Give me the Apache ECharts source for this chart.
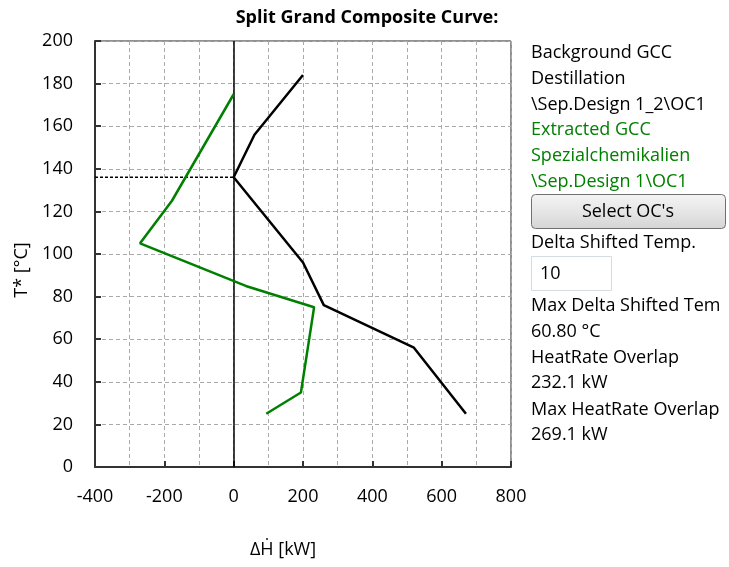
<!DOCTYPE html>
<html><head><meta charset="utf-8">
<script src="https://cdn.jsdelivr.net/npm/echarts@6/dist/echarts.min.js"></script>
<style>html,body{margin:0;padding:0;background:#fff}#c{width:729px;height:567px}</style>
</head><body><div id="c"></div>
<script>
// Background GCC (Destillation) : [ΔH kW, T* °C]
var backgroundGCC = [[200,184],[60,156],[0,136],[200,96],[260,76],[520,56],[670,25]];
// Extracted GCC (Spezialchemikalien)
var extractedGCC = [[0,175],[-178,125],[-270,105],[35,85],[232,75],[194,35],[94,25]];
// Pinch line
var pinchLine = [[-400,136],[0,136]];
var xTicks = [-400,-200,0,200,400,600,800];
var yTicks = [0,20,40,60,80,100,120,140,160,180,200];
var panelLines = [
  ["Background GCC","#000"],["Destillation","#000"],["\\Sep.Design 1_2\\OC1","#000"],
  ["Extracted GCC","#008000"],["Spezialchemikalien","#008000"],["\\Sep.Design 1\\OC1","#008000"]
];
var panelLines2 = ["Max Delta Shifted Tem","60.80 °C","HeatRate Overlap","232.1 kW","Max HeatRate Overlap","269.1 kW"];

var FONT = "Open Sans";
var FS = 18;
var chart = echarts.init(document.getElementById('c'), null, {renderer:'canvas'});
var gridL=95, gridT=41, gridW=416, gridH=426;
var f = FS+'px "'+FONT+'"';
var graphics = [];
graphics.push({type:'text', style:{text:'Split Grand Composite Curve:', font:'bold 18px "'+FONT+'"', fill:'#000', textAlign:'center', textVerticalAlign:'middle'}, x:367, y:18});
graphics.push({type:'text', style:{text:'T* [°C]', font:f, fill:'#000', textAlign:'center', textVerticalAlign:'middle'}, x:22, y:270, rotation:Math.PI/2});
graphics.push({type:'text', style:{text:'ΔḢ [kW]', font:f, fill:'#000', textAlign:'center', textVerticalAlign:'middle'}, x:283, y:550});
var ys = [53,79,105,130,156,182];
panelLines.forEach(function(p,i){
  graphics.push({type:'text', style:{text:p[0], font:f, fill:p[1], textVerticalAlign:'middle'}, x:531, y:ys[i]});
});
graphics.push({type:'rect', shape:{x:531.5,y:194.5,width:194,height:34,r:4}, style:{fill:new echarts.graphic.LinearGradient(0,0,0,1,[{offset:0,color:'#f4f4f4'},{offset:0.5,color:'#e6e6e6'},{offset:1,color:'#d4d4d4'}]), stroke:'#707070', lineWidth:1}});
graphics.push({type:'text', style:{text:"Select OC's", font:f, fill:'#000', textAlign:'center', textVerticalAlign:'middle'}, x:628, y:212});
graphics.push({type:'text', style:{text:'Delta Shifted Temp.', font:f, fill:'#000', textVerticalAlign:'middle'}, x:531, y:243});
graphics.push({type:'rect', shape:{x:531.5,y:256.5,width:80,height:34}, style:{fill:'#fff', stroke:'#d5dbe3', lineWidth:1}});
graphics.push({type:'text', style:{text:'10', font:f, fill:'#000', textVerticalAlign:'middle'}, x:540, y:274});
var ys2 = [306,332,358,383,410,435];
panelLines2.forEach(function(t,i){
  graphics.push({type:'text', style:{text:t, font:f, fill:'#000', textVerticalAlign:'middle'}, x:531, y:ys2[i]});
});

var option = {
  animation:false,
  backgroundColor:'#fff',
  textStyle:{fontFamily:FONT},
  grid:{left:gridL, top:gridT, width:gridW, height:gridH, show:true, borderColor:'#222', borderWidth:1, containLabel:false},
  xAxis:{type:'value', min:xTicks[0], max:xTicks[xTicks.length-1], interval:200,
    axisLine:{show:true, onZero:false, lineStyle:{color:'#333', width:2}},
    axisTick:{show:true, inside:true, length:6, lineStyle:{color:'#333', width:2}},
    axisLabel:{color:'#000', fontSize:FS, margin:21, fontFamily:FONT},
    splitLine:{show:true, lineStyle:{color:'#aaa', type:[4,3], width:1}},
    minorTick:{show:false, splitNumber:2},
    minorSplitLine:{show:true, lineStyle:{color:'#aaa', type:[4,3], width:1}}
  },
  yAxis:{type:'value', min:yTicks[0], max:yTicks[yTicks.length-1], interval:20,
    axisLine:{show:true, onZero:false, lineStyle:{color:'#333', width:2}},
    axisTick:{show:true, inside:true, length:6, lineStyle:{color:'#333', width:2}},
    axisLabel:{color:'#000', fontSize:FS, margin:22, fontFamily:FONT},
    splitLine:{show:true, lineStyle:{color:'#aaa', type:[4,3], width:1}}
  },
  series:[
    {type:'line', data:backgroundGCC, symbol:'none', lineStyle:{color:'#000', width:2.5}, z:5,
     markLine:{silent:true, symbol:'none', label:{show:false}, lineStyle:{color:'#000', type:'solid', width:1.5}, data:[{xAxis:0}]}},
    {type:'line', data:extractedGCC, symbol:'none', lineStyle:{color:'#008000', width:2.5}, z:6},
    {type:'line', data:pinchLine, symbol:'none', lineStyle:{color:'#000', width:1.5, type:[3,2]}, z:4}
  ],
  graphic:graphics
};
chart.setOption(option);
</script></body></html>
